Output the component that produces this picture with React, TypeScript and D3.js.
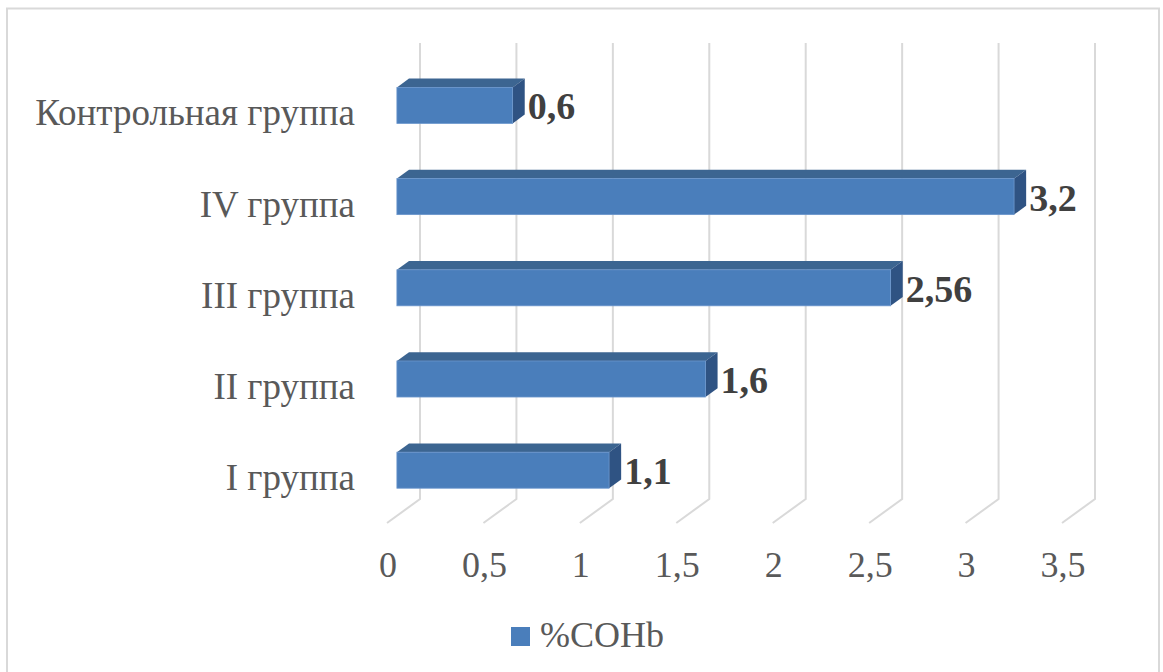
import React from "react";
import * as d3 from "d3";

// Categories listed from top to bottom
const categories: string[] = [
  "Контрольная группа",
  "IV группа",
  "III группа",
  "II группа",
  "I группа",
];
const coHbValues: number[] = [0.6, 3.2, 2.56, 1.6, 1.1];
const tickValues: number[] = [0, 0.5, 1, 1.5, 2, 2.5, 3, 3.5];
const seriesName = "%COHb";

const W = 1163;
const H = 672;

// Back wall geometry and oblique depth vector of the 3D floor
const wallTop = 43;
const wallBottom = 499;
const depth = { x: -33, y: 24 };
const frontT = 0.7;
const backT = 0.333;

const ruLocale = d3.formatLocale({
  decimal: ",",
  thousands: " ",
  grouping: [3],
  currency: ["", ""],
});
const fmtTick = ruLocale.format("~g");
const fmtValue = (v: number) => String(v).replace(".", ",");

const FONT = "'Liberation Serif', 'Times New Roman', serif";

export default function App() {
  const x = d3.scaleLinear().domain([0, 3.5]).range([420, 1095]);
  const y = d3
    .scaleBand<string>()
    .domain(categories)
    .range([wallTop, wallBottom])
    .paddingInner(0.605)
    .paddingOuter(0.3025);
  const bw = y.bandwidth();

  const fdx = depth.x * frontT;
  const fdy = depth.y * frontT;
  const bdx = depth.x * backT;
  const bdy = depth.y * backT;

  const pts = (arr: [number, number][]) => arr.map((p) => p.join(",")).join(" ");

  return (
    <svg
      width={W}
      height={H}
      style={{ position: "absolute", left: 0, top: 0, background: "#fff" }}
    >
      <rect x={7} y={8.5} width={1152} height={680} fill="#fff" stroke="#d9d9d9" strokeWidth={2} />

      {/* gridlines: vertical on the back wall, then along the floor */}
      {tickValues.map((t) => (
        <polyline
          key={"g" + t}
          points={pts([
            [x(t), wallTop],
            [x(t), wallBottom],
            [x(t) + depth.x, wallBottom + depth.y],
          ])}
          fill="none"
          stroke="#d9d9d9"
          strokeWidth={2}
        />
      ))}

      {/* tick labels */}
      {tickValues.map((t) => (
        <text
          key={"t" + t}
          x={x(t) + depth.x + 1}
          y={577}
          textAnchor="middle"
          fontFamily={FONT}
          fontSize={36}
          fill="#595959"
        >
          {fmtTick(t)}
        </text>
      ))}

      {/* 3D bars */}
      {categories.map((c, i) => {
        const v = coHbValues[i];
        const b = y(c) as number;
        const x0 = x(0);
        const x1 = x(v);
        const fTop = b + fdy;
        const fBot = b + fdy + bw;
        const bTop = b + bdy;
        const bBot = b + bdy + bw;
        return (
          <g key={"b" + c}>
            <polygon
              points={pts([
                [x0 + fdx, fTop],
                [x1 + fdx, fTop],
                [x1 + bdx, bTop],
                [x0 + bdx, bTop],
              ])}
              fill="#3c6591"
            />
            <polygon
              points={pts([
                [x1 + fdx, fTop],
                [x1 + bdx, bTop],
                [x1 + bdx, bBot],
                [x1 + fdx, fBot],
              ])}
              fill="#2f5383"
            />
            <rect
              x={x0 + fdx}
              y={fTop}
              width={x1 - x0}
              height={bw}
              fill="#4a7ebb"
              stroke="#6a95cc"
              strokeWidth={0.8}
            />
            <text
              x={x1 + bdx + 3}
              y={fTop + bw / 2 + 14}
              fontFamily={FONT}
              fontSize={38}
              fontWeight="bold"
              fill="#404040"
            >
              {fmtValue(v)}
            </text>
            <text
              x={355}
              y={fTop + bw / 2 + 20}
              textAnchor="end"
              fontFamily={FONT}
              fontSize={37}
              fill="#595959"
            >
              {c}
            </text>
          </g>
        );
      })}

      {/* legend */}
      <rect x={511} y={627} width={19} height={19} fill="#4a7ebb" />
      <text x={540} y={647} fontFamily={FONT} fontSize={36} fill="#595959">
        {seriesName}
      </text>
    </svg>
  );
}
